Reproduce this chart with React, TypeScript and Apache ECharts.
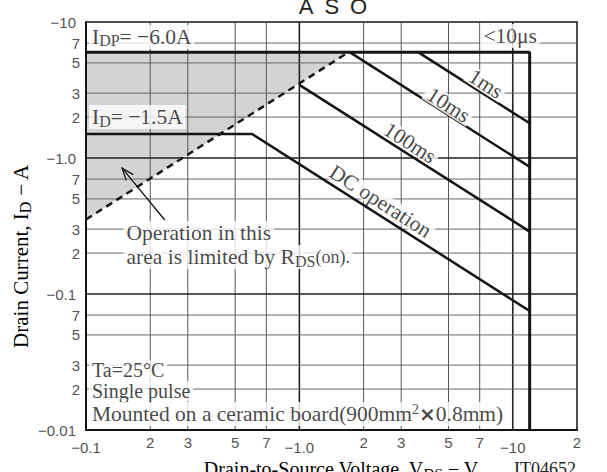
import React, { useEffect, useRef } from 'react';
import * as echarts from 'echarts';

const SERIF = 'Liberation Serif, Times New Roman, serif';
const SANS = 'Liberation Sans, Arial, sans-serif';
const INK = '#151515';

// ---- axes (log-log) ----
const xMin = 0.1;
const xMax = 20;
const yMin = 0.01;
const yMax = 10;

// grid lines
const xGridVals = [0.2, 0.3, 0.5, 0.7, 1, 2, 3, 5, 7, 10];
const yGridVals = [0.02, 0.03, 0.05, 0.07, 0.1, 0.2, 0.3, 0.5, 0.7, 1, 2, 3, 5, 7];
const decadeVals = [0.01, 0.1, 1, 10];

// tick labels
const xTickVals = [0.1, 0.2, 0.3, 0.5, 0.7, 1, 2, 3, 5, 7, 10, 20];
const xTickText = ['−0.1', '2', '3', '5', '7', '−1.0', '2', '3', '5', '7', '−10', '2'];
const yTickVals = [0.01, 0.02, 0.03, 0.05, 0.07, 0.1, 0.2, 0.3, 0.5, 0.7, 1, 2, 3, 5, 7, 10];
const yTickText = ['−0.01', '2', '3', '5', '7', '−0.1', '2', '3', '5', '7', '−1.0', '2', '3', '5', '7', '−10'];

// ---- curves (|VDS| in V, |ID| in A) ----
const limitV = [0.1, 12, 12];
const limitI = [6, 6, 0.01];
const dcV = [0.1, 0.6, 12];
const dcI = [1.5, 1.5, 0.075];
const ms100V = [1.0, 12];
const ms100I = [3.45, 0.2875];
const ms10V = [1.72, 12];
const ms10I = [6, 0.86];
const ms1V = [3.6, 12];
const ms1I = [6, 1.8];
const rdsV = [0.1, 1.7];
const rdsI = [0.353, 6];
const shadeV = [0.1, 1.7, 0.1];
const shadeI = [0.353, 6, 6];
const arrowV = [0.234, 0.1476];
const arrowI = [0.35, 0.843];

const zip = (a: number[], b: number[]) => a.map((v, k) => [v, b[k]]);

const FS = 21.5;
const rich = {
  n: { fontFamily: SERIF, fontSize: FS, lineHeight: 24, color: INK },
  k: { fontFamily: SERIF, fontSize: 20, lineHeight: 20, color: INK },
  m: { fontFamily: SERIF, fontSize: FS, lineHeight: 18, color: INK },
  s: { fontFamily: SERIF, fontSize: 16, lineHeight: 16, verticalAlign: 'bottom', color: INK },
  o: { fontFamily: SERIF, fontSize: 18, lineHeight: 24, color: INK },
  sup: { fontFamily: SERIF, fontSize: 14, lineHeight: 14, verticalAlign: 'top', color: INK },
  x: { fontFamily: 'DejaVu Sans', fontWeight: 'bold', fontSize: 20, lineHeight: 24, color: INK },
  an: { fontFamily: SERIF, fontSize: 20, lineHeight: 24, color: INK },
  as: { fontFamily: SERIF, fontSize: 15, lineHeight: 15, verticalAlign: 'bottom', color: INK },
  yn: { fontFamily: SERIF, fontSize: 21, lineHeight: 24, color: INK },
  ys: { fontFamily: SERIF, fontSize: 16, lineHeight: 16, verticalAlign: 'bottom', color: INK },
};

type Note = { text: string; v: number; i: number; pos: string; dist?: number; rot?: number };
const notes: Note[] = [
  { text: '{n|I}{s|DP}{n|= −6.0A}', v: 0.1, i: 7.76, pos: 'right', dist: 3 },
  { text: '{n|I}{s|D}{n|= −1.5A}', v: 0.1, i: 2.0, pos: 'right', dist: 3 },
  { text: '{n|<10μs}', v: 9.73, i: 7.89, pos: 'inside' },
  { text: '{m|1ms}', v: 7.47, i: 3.5, pos: 'inside', rot: -32.5 },
  { text: '{m|10ms}', v: 5.0, i: 2.45, pos: 'inside', rot: -32.5 },
  { text: '{m|100ms}', v: 3.3, i: 1.29, pos: 'inside', rot: -32.5 },
  { text: '{m|DC operation}', v: 2.4, i: 0.48, pos: 'inside', rot: -32.5 },
  { text: '{n|Operation in this}', v: 0.15, i: 0.28, pos: 'right', dist: 0 },
  { text: '{n|area is limited by R}{s|DS}{o|(on).}', v: 0.15, i: 0.187, pos: 'right', dist: 0 },
  { text: '{k|Ta=25°C}', v: 0.1, i: 0.0274, pos: 'right', dist: 3 },
  { text: '{k|Single pulse}', v: 0.1, i: 0.01935, pos: 'right', dist: 3 },
  { text: '{n|Mounted on a ceramic board(900mm}{sup|2}{x|×}{n|0.8mm)}', v: 0.1, i: 0.0131, pos: 'right', dist: 3 },
];

export default function App() {
  const ref = useRef<HTMLDivElement>(null);
  useEffect(() => {
    if (!ref.current) return;
    const chart = echarts.init(ref.current, undefined, { renderer: 'svg' });

    const lineSeries = (data: number[][], width: number, dashed = false) => ({
      type: 'line',
      data,
      symbol: 'none',
      silent: true,
      z: 4,
      lineStyle: { color: INK, width, type: dashed ? [7, 5] : 'solid', cap: 'butt' },
    });

    const option: any = {
      animation: false,
      backgroundColor: '#fff',
      grid: {
        left: 86, right: 30, top: 22, bottom: 42,
        show: true, borderColor: INK, borderWidth: 1.5, backgroundColor: 'transparent',
      },
      xAxis: {
        type: 'log', logBase: 10, min: xMin, max: xMax, z: 6,
        axisLine: { show: true, onZero: false, lineStyle: { color: INK, width: 2 } },
        axisTick: { show: false }, axisLabel: { show: false }, splitLine: { show: false },
      },
      yAxis: {
        type: 'log', logBase: 10, min: yMin, max: yMax, z: 6,
        axisLine: { show: true, onZero: false, lineStyle: { color: INK, width: 2 } },
        axisTick: { show: false }, axisLabel: { show: false }, splitLine: { show: false },
      },
      graphic: [
        {
          type: 'text', x: 333, y: 6.5,
          style: { text: 'A\u2002S\u2002O', font: `22px ${SANS}`, fill: '#222', align: 'center', verticalAlign: 'middle', textAlign: 'center', textVerticalAlign: 'middle' },
        },
        {
          type: 'text', x: 341, y: 469,
          style: {
            text: '{an|Drain-to-Source Voltage, V}{as|DS}{an| − V}', rich,
            align: 'center', verticalAlign: 'middle', textAlign: 'center', textVerticalAlign: 'middle',
          },
        },
        {
          type: 'text', x: 21, y: 256, rotation: Math.PI / 2,
          style: {
            text: '{yn|Drain Current, I}{ys|D}{yn| − A}', rich,
            align: 'center', verticalAlign: 'middle', textAlign: 'center', textVerticalAlign: 'middle',
          },
        },
        {
          type: 'text', x: 576, y: 469,
          style: { text: 'IT04652', font: `18px ${SERIF}`, fill: '#222', align: 'right', verticalAlign: 'middle', textAlign: 'right', textVerticalAlign: 'middle' },
        },
      ],
      series: [
        {
          type: 'custom', name: 'shade', silent: true, z: 0,
          data: [[1, 1]],
          renderItem: (_p: any, api: any) => ({
            type: 'polygon',
            shape: { points: shadeV.map((v, k) => api.coord([v, shadeI[k]])) },
            style: { fill: '#d3d3d3' },
          }),
        },
        {
          type: 'custom', name: 'xgrid', silent: true, z: 1,
          data: xGridVals.map((v) => [v, 1]),
          renderItem: (_p: any, api: any) => {
            const v = api.value(0);
            const a = api.coord([v, yMin]);
            const b = api.coord([v, yMax]);
            const dec = decadeVals.some((d) => Math.abs(d - v) < 1e-9);
            return {
              type: 'line',
              shape: { x1: a[0], y1: a[1], x2: b[0], y2: b[1] },
              style: { stroke: dec ? '#222' : '#555', lineWidth: dec ? 1.6 : 1 },
            };
          },
        },
        {
          type: 'custom', name: 'ygrid', silent: true, z: 1,
          data: yGridVals.map((v) => [1, v]),
          renderItem: (_p: any, api: any) => {
            const v = api.value(1);
            const a = api.coord([xMin, v]);
            const b = api.coord([xMax, v]);
            const dec = decadeVals.some((d) => Math.abs(d - v) < 1e-9);
            return {
              type: 'line',
              shape: { x1: a[0], y1: a[1], x2: b[0], y2: b[1] },
              style: { stroke: dec ? '#222' : '#666', lineWidth: dec ? 1.6 : 1 },
            };
          },
        },
        lineSeries(zip(limitV, limitI), 3),
        lineSeries(zip(dcV, dcI), 2.5),
        lineSeries(zip(ms100V, ms100I), 2.5),
        lineSeries(zip(ms10V, ms10I), 2.5),
        lineSeries(zip(ms1V, ms1I), 2.5),
        lineSeries(zip(rdsV, rdsI), 2.5, true),
        {
          type: 'custom', name: 'arrow', silent: true, z: 4,
          data: [[1, 1]],
          renderItem: (_p: any, api: any) => {
            const t = api.coord([arrowV[0], arrowI[0]]);
            const h = api.coord([arrowV[1], arrowI[1]]);
            const ang = Math.atan2(h[1] - t[1], h[0] - t[0]);
            const L = 13;
            const w = 0.36;
            return {
              type: 'group',
              children: [
                { type: 'line', shape: { x1: t[0], y1: t[1], x2: h[0], y2: h[1] }, style: { stroke: INK, lineWidth: 1.3 } },
                {
                  type: 'polyline',
                  shape: {
                    points: [
                      [h[0] - L * Math.cos(ang - w), h[1] - L * Math.sin(ang - w)],
                      h,
                      [h[0] - L * Math.cos(ang + w), h[1] - L * Math.sin(ang + w)],
                    ],
                  },
                  style: { stroke: INK, lineWidth: 1.3, fill: 'none' },
                },
              ],
            };
          },
        },
        {
          type: 'scatter', name: 'notes', silent: true, z: 8, clip: false,
          symbolSize: 0,
          data: notes.map((nt) => ({
            value: [nt.v, nt.i],
            name: nt.text,
            label: {
              show: true, position: nt.pos, distance: nt.dist ?? 0, rotate: nt.rot ?? 0,
              formatter: nt.text, rich, backgroundColor: '#fff', padding: [0, 3],
            },
          })),
        },
        {
          type: 'scatter', name: 'xticks', silent: true, z: 8, clip: false,
          symbolSize: 0,
          data: xTickVals.map((v, k) => ({
            value: [v, yMin], name: xTickText[k],
            label: { distance: decadeVals.includes(v) ? 10 : 5 },
          })),
          label: { show: true, position: 'bottom', formatter: '{b}', fontFamily: SANS, fontSize: 15, color: '#222' },
        },
        {
          type: 'scatter', name: 'yticks', silent: true, z: 8, clip: false,
          symbolSize: 0,
          data: yTickVals.map((v, k) => ({
            value: [xMin, v], name: yTickText[k],
            label: { distance: decadeVals.includes(v) ? 10 : 6 },
          })),
          label: { show: true, position: 'left', formatter: '{b}', fontFamily: SANS, fontSize: 15, color: '#222' },
        },
      ],
    };
    chart.setOption(option);
    return () => chart.dispose();
  }, []);
  return <div ref={ref} style={{ position: 'fixed', left: 0, top: 0, width: 607, height: 472, background: '#fff' }} />;
}
